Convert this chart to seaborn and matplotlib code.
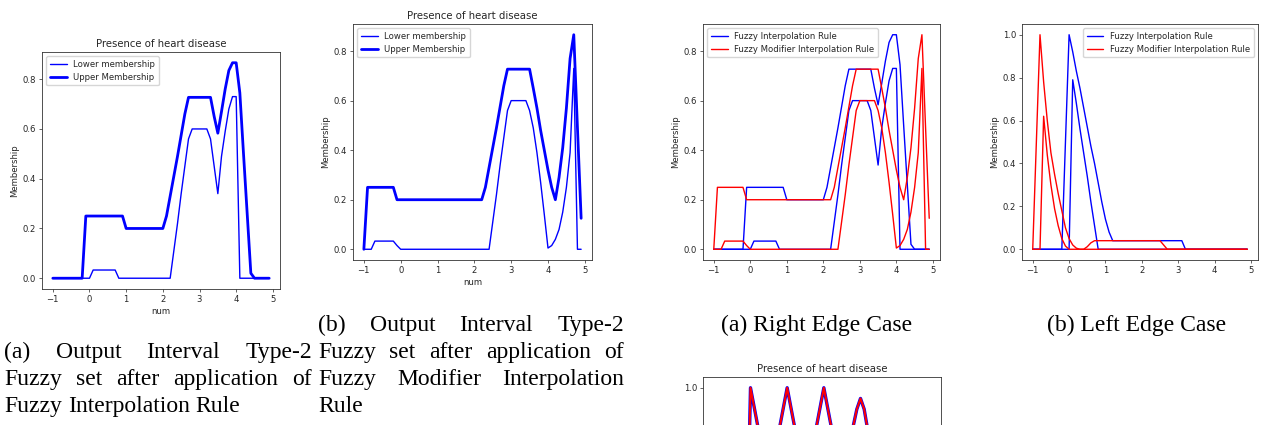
import numpy as np
import pandas as pd
import seaborn as sns
import matplotlib
matplotlib.use("Agg")
import matplotlib.pyplot as plt
from matplotlib.ticker import FormatStrFormatter

sns.set_style("ticks")
plt.rcParams['font.family'] = ['DejaVu Sans']
plt.rcParams.update({
    'axes.linewidth': 0.6,
    'axes.edgecolor': '#333333',
    'xtick.major.size': 2.2, 'ytick.major.size': 2.2,
    'xtick.major.width': 0.5, 'ytick.major.width': 0.5,
    'xtick.labelsize': 6.1, 'ytick.labelsize': 6.1,
    'axes.labelsize': 6.1, 'axes.titlesize': 7.3,
    'axes.titlepad': 3.7, 'axes.labelpad': 2.5,
    'xtick.major.pad': 2.1, 'ytick.major.pad': 2.1,
})

# universe of discourse
num = [-1.0, -0.9, -0.8, -0.7, -0.6, -0.5, -0.4, -0.3, -0.2, -0.1,
       0.0, 0.1, 0.2, 0.3, 0.4, 0.5, 0.6, 0.7, 0.8, 0.9,
       1.0, 1.1, 1.2, 1.3, 1.4, 1.5, 1.6, 1.7, 1.8, 1.9,
       2.0, 2.1, 2.2, 2.3, 2.4, 2.5, 2.6, 2.7, 2.8, 2.9,
       3.0, 3.1, 3.2, 3.3, 3.4, 3.5, 3.6, 3.7, 3.8, 3.9,
       4.0, 4.1, 4.2, 4.3, 4.4, 4.5, 4.6, 4.7, 4.8, 4.9]

# fuzzy interpolation rule output (right edge)
fir_lower = [0, 0, 0, 0, 0, 0, 0, 0, 0, 0,
             0, 0.033, 0.033, 0.033, 0.033, 0.033, 0.033, 0.033, 0, 0,
             0, 0, 0, 0, 0, 0, 0, 0, 0, 0,
             0, 0, 0, 0.11, 0.22, 0.34, 0.45, 0.56, 0.6, 0.6,
             0.6, 0.6, 0.6, 0.56, 0.45, 0.34, 0.49, 0.59, 0.68, 0.73,
             0.73, 0, 0, 0, 0, 0, 0, 0, 0, 0]
fir_upper = [0, 0, 0, 0, 0, 0, 0, 0, 0, 0.25,
             0.25, 0.25, 0.25, 0.25, 0.25, 0.25, 0.25, 0.25, 0.25, 0.25,
             0.2, 0.2, 0.2, 0.2, 0.2, 0.2, 0.2, 0.2, 0.2, 0.2,
             0.2, 0.25, 0.33, 0.41, 0.49, 0.575, 0.66, 0.727, 0.727, 0.727,
             0.727, 0.727, 0.727, 0.727, 0.65, 0.583, 0.67, 0.76, 0.835, 0.866,
             0.866, 0.745, 0.5, 0.26, 0.02, 0, 0, 0, 0, 0]

# fuzzy modifier interpolation rule output (right edge)
fmir_lower = [0, 0, 0, 0.033, 0.033, 0.033, 0.033, 0.033, 0.033, 0.015,
              0, 0, 0, 0, 0, 0, 0, 0, 0, 0,
              0, 0, 0, 0, 0, 0, 0, 0, 0, 0,
              0, 0, 0, 0, 0, 0.11, 0.22, 0.34, 0.45, 0.56,
              0.6, 0.6, 0.6, 0.6, 0.6, 0.56, 0.49, 0.39, 0.27, 0.14,
              0.005, 0.015, 0.04, 0.08, 0.15, 0.25, 0.39, 0.73, 0, 0]
fmir_upper = [0, 0.25, 0.25, 0.25, 0.25, 0.25, 0.25, 0.25, 0.25, 0.2,
              0.2, 0.2, 0.2, 0.2, 0.2, 0.2, 0.2, 0.2, 0.2, 0.2,
              0.2, 0.2, 0.2, 0.2, 0.2, 0.2, 0.2, 0.2, 0.2, 0.2,
              0.2, 0.2, 0.2, 0.25, 0.33, 0.41, 0.49, 0.575, 0.66, 0.727,
              0.727, 0.727, 0.727, 0.727, 0.727, 0.727, 0.65, 0.57, 0.48, 0.40,
              0.32, 0.25, 0.2, 0.29, 0.41, 0.57, 0.77, 0.866, 0.49, 0.125]

# left edge case
left_fir_upper = [0, 0, 0, 0, 0, 0, 0, 0, 0, 0.5,
                  1.0, 0.92, 0.83, 0.75, 0.66, 0.57, 0.48, 0.4, 0.31, 0.22,
                  0.14, 0.08, 0.04, 0.04, 0.04, 0.04, 0.04, 0.04, 0.04, 0.04,
                  0.04, 0.04, 0.04, 0.04, 0.04, 0.04, 0.04, 0.04, 0.04, 0.04,
                  0.04, 0.04, 0, 0, 0, 0, 0, 0, 0, 0,
                  0, 0, 0, 0, 0, 0, 0, 0, 0, 0]
left_fir_lower = [0, 0, 0, 0, 0, 0, 0, 0, 0, 0,
                  0, 0.79, 0.68, 0.56, 0.45, 0.34, 0.22, 0.11, 0, 0,
                  0, 0, 0, 0, 0, 0, 0, 0, 0, 0,
                  0, 0, 0, 0, 0, 0, 0, 0, 0, 0,
                  0, 0, 0, 0, 0, 0, 0, 0, 0, 0,
                  0, 0, 0, 0, 0, 0, 0, 0, 0, 0]
left_fmir_upper = [0, 0.5, 1.0, 0.78, 0.6, 0.45, 0.35, 0.26, 0.18, 0.1,
                   0.05, 0.02, 0.005, 0, 0, 0.012, 0.03, 0.04, 0.04, 0.04,
                   0.04, 0.04, 0.04, 0.04, 0.04, 0.04, 0.04, 0.04, 0.04, 0.04,
                   0.04, 0.04, 0.04, 0.04, 0.04, 0.04, 0.02, 0, 0, 0,
                   0, 0, 0, 0, 0, 0, 0, 0, 0, 0,
                   0, 0, 0, 0, 0, 0, 0, 0, 0, 0]
left_fmir_lower = [0, 0, 0, 0.62, 0.44, 0.3, 0.19, 0.11, 0.05, 0.015,
                   0, 0, 0, 0, 0, 0, 0, 0, 0, 0,
                   0, 0, 0, 0, 0, 0, 0, 0, 0, 0,
                   0, 0, 0, 0, 0, 0, 0, 0, 0, 0,
                   0, 0, 0, 0, 0, 0, 0, 0, 0, 0,
                   0, 0, 0, 0, 0, 0, 0, 0, 0, 0]

# third figure (mostly cut off at the page bottom)
multi_peak = [0, 0, 0, 0, 0, 0, 0, 0, 0, 0.2,
              1.0, 0.91, 0.82, 0.73, 0.64, 0.56, 0.64, 0.73, 0.82, 0.91,
              1.0, 0.91, 0.82, 0.73, 0.64, 0.56, 0.64, 0.73, 0.82, 0.91,
              1.0, 0.91, 0.82, 0.73, 0.64, 0.56, 0.64, 0.73, 0.82, 0.9,
              0.95, 0.9, 0.8, 0.68, 0.55, 0.4, 0.3, 0.2, 0.1, 0,
              0, 0, 0, 0, 0, 0, 0, 0, 0, 0]

W, H = 1261, 425
fig = plt.figure(figsize=(W / 100, H / 100), dpi=100)


def box(l, t, r, b):
    return fig.add_axes([l / W, 1 - b / H, (r - l) / W, (b - t) / H])


title = "Presence of heart disease"
leg_kw = dict(fontsize=6.1, frameon=True, handlelength=2.0)

# (a) FIR output
ax1 = box(42, 52, 280, 289)
sns.lineplot(x=num, y=fir_lower, ax=ax1, color='blue', linewidth=1.0, label='Lower membership')
sns.lineplot(x=num, y=fir_upper, ax=ax1, color='blue', linewidth=2.0, label='Upper Membership')
ax1.set_title(title)
ax1.set_xlabel('num')
ax1.set_ylabel('Membership')
ax1.legend(loc='upper left', **leg_kw)

# (b) FMIR output
ax2 = box(353, 24, 592, 260)
sns.lineplot(x=num, y=fmir_lower, ax=ax2, color='blue', linewidth=1.0, label='Lower membership')
sns.lineplot(x=num, y=fmir_upper, ax=ax2, color='blue', linewidth=2.0, label='Upper Membership')
ax2.set_title(title)
ax2.set_xlabel('num')
ax2.set_ylabel('Membership')
ax2.legend(loc='upper left', **leg_kw)

# right edge case
ax3 = box(703, 24, 940, 260)
sns.lineplot(x=num, y=fir_lower, ax=ax3, color='blue', linewidth=1.0, label='Fuzzy Interpolation Rule')
sns.lineplot(x=num, y=fir_upper, ax=ax3, color='blue', linewidth=1.0)
sns.lineplot(x=num, y=fmir_lower, ax=ax3, color='red', linewidth=1.0, label='Fuzzy Modifier Interpolation Rule')
sns.lineplot(x=num, y=fmir_upper, ax=ax3, color='red', linewidth=1.0)
ax3.set_ylabel('Membership')
ax3.legend(loc='upper left', **leg_kw)

# left edge case
ax4 = box(1022, 24, 1258, 260)
sns.lineplot(x=num, y=left_fir_lower, ax=ax4, color='blue', linewidth=1.0, label='Fuzzy Interpolation Rule')
sns.lineplot(x=num, y=left_fir_upper, ax=ax4, color='blue', linewidth=1.0)
sns.lineplot(x=num, y=left_fmir_lower, ax=ax4, color='red', linewidth=1.0, label='Fuzzy Modifier Interpolation Rule')
sns.lineplot(x=num, y=left_fmir_upper, ax=ax4, color='red', linewidth=1.0)
ax4.set_ylabel('Membership')
ax4.legend(loc='upper right', **leg_kw)

# next figure, cut off by the page: only the top of it shows
ax5 = box(703, 377, 941, 613)
sns.lineplot(x=num, y=multi_peak, ax=ax5, color='blue', linewidth=2.4)
sns.lineplot(x=num, y=multi_peak, ax=ax5, color='red', linewidth=1.5)
ax5.set_title(title)
ax5.set_yticks([1.0])
ax5.yaxis.set_major_formatter(FormatStrFormatter('%.1f'))
ax5.tick_params(labelbottom=False)

# captions, justified like the paper
cap_kw = dict(family='Liberation Serif', fontsize=17, color='black', va='baseline')
renderer = fig.canvas.get_renderer()


def put_line(words, x0, x1, y, justify=True):
    ts = [fig.text(x0 / W, 1 - y / H, w, **cap_kw) for w in words]
    widths = [t.get_window_extent(renderer).width for t in ts]
    if justify and len(words) > 1:
        gap = (x1 - x0 - sum(widths)) / (len(words) - 1)
    else:
        gap = 0.25 * 17 * 100 / 72
    x = x0
    for t, wd in zip(ts, widths):
        t.set_x(x / W)
        x += wd + gap


put_line(['(a)', 'Output', 'Interval', 'Type-2'], 4, 312, 358)
put_line(['Fuzzy', 'set', 'after', 'application', 'of'], 4, 312, 385)
put_line(['Fuzzy', 'Interpolation', 'Rule'], 4, 312, 412, justify=False)

put_line(['(b)', 'Output', 'Interval', 'Type-2'], 318, 624, 331)
put_line(['Fuzzy', 'set', 'after', 'application', 'of'], 318, 624, 358)
put_line(['Fuzzy', 'Modifier', 'Interpolation'], 318, 624, 385)
put_line(['Rule'], 318, 624, 412, justify=False)

fig.text(817 / W, 1 - 331 / H, '(a) Right Edge Case', ha='center', **cap_kw)
fig.text(1137 / W, 1 - 331 / H, '(b) Left Edge Case', ha='center', **cap_kw)

fig.savefig('out.png', dpi=100)
